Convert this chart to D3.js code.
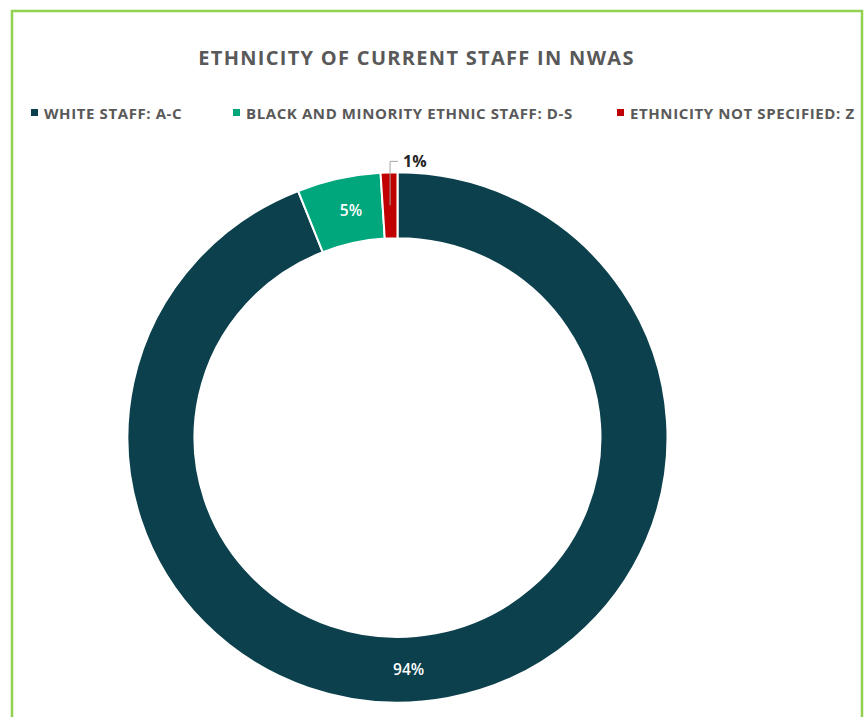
<!DOCTYPE html>
<html>
<head>
<meta charset="utf-8">
<script src="https://cdn.jsdelivr.net/npm/d3@7"></script>
<style>
  html, body { margin: 0; padding: 0; background: #fff; }
  svg { display: block; }
  text { font-family: "Open Sans", "DejaVu Sans", sans-serif; }
</style>
</head>
<body>
<svg id="chart" width="864" height="717"></svg>
<script>
// Staff ethnicity breakdown (percent of current staff)
const categories = ["WHITE STAFF: A-C", "BLACK AND MINORITY ETHNIC STAFF: D-S", "ETHNICITY NOT SPECIFIED: Z"];
const shares = [94, 5, 1];
const shareLabels = ["94%", "5%", "1%"];
const colors = ["#0b404c", "#00a67c", "#c00000"];
const title = "ETHNICITY OF CURRENT STAFF IN NWAS";

const data = categories.map((c, i) => ({ name: c, value: shares[i], label: shareLabels[i], color: colors[i] }));

const svg = d3.select("#chart");

// Frame
svg.append("path")
  .attr("d", "M12,717 V11 H862 V717")
  .attr("fill", "none")
  .attr("stroke", "#92d050")
  .attr("stroke-width", 2.5);

// Title
svg.append("text")
  .attr("x", 416.5)
  .attr("y", 65)
  .attr("text-anchor", "middle")
  .attr("font-size", 20)
  .attr("letter-spacing", 1.3)
  .attr("font-weight", 700)
  .attr("fill", "#595959")
  .text(title);

// Legend
const legendX = [31, 233, 617];
const legend = svg.append("g").selectAll("g")
  .data(data)
  .join("g")
  .attr("transform", (d, i) => `translate(${legendX[i]},113)`);
legend.append("rect")
  .attr("x", 0).attr("y", -4)
  .attr("width", 7).attr("height", 7)
  .attr("fill", d => d.color);
legend.append("text")
  .attr("x", 13)
  .attr("y", 5.5)
  .attr("font-size", 15)
  .attr("letter-spacing", 0.6)
  .attr("font-weight", 700)
  .attr("fill", "#595959")
  .text(d => d.name);

// Donut
const cx = 397.5, cy = 437.5, sy = 0.982;
const outerR = 270, innerR = 203;

const pie = d3.pie().value(d => d.value).sort(null);
const arc = d3.arc().innerRadius(innerR).outerRadius(outerR);
const arcs = pie(data);

const ring = svg.append("g")
  .attr("transform", `translate(${cx},${cy}) scale(1,${sy})`);

ring.selectAll("path")
  .data(arcs)
  .join("path")
  .attr("d", arc)
  .attr("fill", d => d.data.color)
  .attr("stroke", "#fff")
  .attr("stroke-width", 2);

// Value labels sit in the middle of the ring; the large slice's label is
// placed near the bottom of the ring, the tiny slice gets a leader line.
const midR = (innerR + outerR) / 2;
const toPage = p => [cx + p[0], cy + p[1] * sy];
const labelAngle = [Math.PI * 0.985, null, null];

arcs.forEach((d, i) => {
  const a = labelAngle[i] != null ? labelAngle[i] : (d.startAngle + d.endAngle) / 2;
  const [px, py] = toPage([midR * Math.sin(a), -midR * Math.cos(a)]);
  if (i < 2) {
    svg.append("text")
      .attr("x", px + (i === 1 ? 5 : 0))
      .attr("y", py)
      .attr("dy", "0.35em")
      .attr("text-anchor", "middle")
      .attr("font-size", 15.5)
      .attr("font-weight", 600)
      .attr("fill", "#fff")
      .text(d.data.label);
  } else {
    const topY = cy - outerR * sy - 11;
    svg.append("path")
      .attr("d", `M${px},${py} V${topY} H${px + 8}`)
      .attr("fill", "none")
      .attr("stroke", "#a6a6a6")
      .attr("stroke-width", 1);
    svg.append("text")
      .attr("x", px + 13)
      .attr("y", topY)
      .attr("dy", "0.35em")
      .attr("font-size", 16)
      .attr("font-weight", 700)
      .attr("fill", "#262626")
      .text(d.data.label);
  }
});
</script>
</body>
</html>
